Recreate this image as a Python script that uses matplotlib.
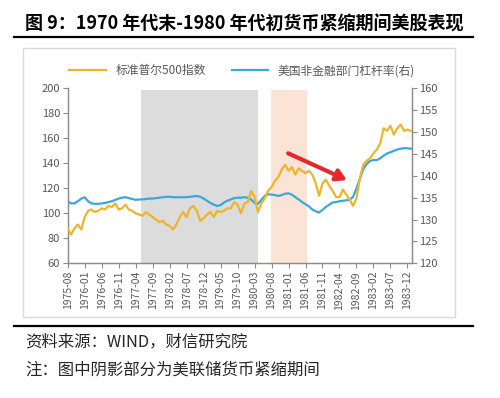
import matplotlib

matplotlib.use("Agg")
import matplotlib.pyplot as plt
import numpy as np
from matplotlib.lines import Line2D
from matplotlib.patches import Rectangle

plt.rcParams["font.family"] = ["Noto Sans CJK SC", "DejaVu Sans"]

# monthly series, first point 1975-08
sp500 = [
    88, 83, 88, 91, 87, 97, 102, 103, 101, 102,
    104, 103, 106, 105, 108, 103, 104, 107, 103, 102,
    100, 99, 98, 101, 99, 97, 95, 93, 94, 91,
    90, 87, 91, 97, 101, 97, 104, 106, 102, 94,
    96, 99, 101, 97, 102, 101, 102, 104, 104, 109,
    107, 100, 108, 109, 118, 113, 101, 108, 112, 118,
    121, 126, 129, 135, 139, 134, 137, 131, 136, 134,
    132, 134, 131, 124, 114, 124, 127, 122, 118, 113,
    113, 119, 115, 111, 106, 112, 128, 139, 142, 144,
    148, 151, 156, 168, 166, 170, 163, 168, 171, 166,
    167, 166,
]
leverage = [
    134.1, 133.7, 133.7, 134.2, 134.8, 135.1, 134.2, 133.7, 133.6, 133.6,
    133.7, 133.8, 134.0, 134.2, 134.5, 134.8, 135.0, 135.1, 134.9, 134.7,
    134.5, 134.6, 134.6, 134.7, 134.8, 134.8, 134.9, 135.0, 135.1, 135.2,
    135.2, 135.1, 135.1, 135.1, 135.1, 135.1, 135.2, 135.3, 135.4, 135.2,
    134.8, 134.3, 133.8, 133.4, 133.1, 133.3, 133.9, 134.3, 134.6, 134.9,
    135.0, 135.0, 135.1, 135.0, 134.6, 133.8, 133.6, 134.5, 135.4, 135.8,
    135.7, 135.6, 135.4, 135.6, 135.9, 136.0, 135.7, 135.1, 134.6, 134.0,
    133.5, 133.0, 132.3, 131.9, 131.6, 132.2, 132.9, 133.4, 133.9, 134.0,
    134.2, 134.3, 134.4, 134.5, 135.2, 137.1, 139.3, 141.5, 142.7, 143.4,
    143.6, 143.6, 144.0, 144.6, 145.1, 145.4, 145.7, 146.0, 146.2, 146.3,
    146.3, 146.2,
]
tick_labels = [
    "1975-08", "1976-01", "1976-06", "1976-11", "1977-04", "1977-09",
    "1978-02", "1978-07", "1978-12", "1979-05", "1979-10", "1980-03",
    "1980-08", "1981-01", "1981-06", "1981-11", "1982-04", "1982-09",
    "1983-02", "1983-07", "1983-12",
]
# tightening periods, in months since 1975-08
tight_1 = (21.5, 56.0)
tight_2 = (59.8, 70.5)

YELLOW = "#EDB52C"
BLUE = "#3BA7DA"
GREY_TXT = "#595959"
SPINE = "#8C8C8C"

fig = plt.figure(figsize=(5, 3.98), dpi=100)
ax = fig.add_axes([0.1354, 0.3384, 0.6876, 0.4397])
ax2 = ax.twinx()

x = np.arange(len(sp500))
# shading and the blue line go on the lower axes, yellow on top
ax2.axvspan(*tight_1, ymax=0.99, color="#DCDCDC", lw=0, zorder=0)
ax2.axvspan(*tight_2, ymax=0.99, color="#FBE4D5", lw=0, zorder=0)
(l2,) = ax2.plot(x, leverage, color=BLUE, lw=1.6, zorder=2)
(l1,) = ax.plot(x, sp500, color=YELLOW, lw=1.6, zorder=3)
ax.set_zorder(ax2.get_zorder() + 1)
ax.patch.set_visible(False)

ax.set_xlim(0, 101.2)
ax.set_ylim(60, 200)
ax2.set_ylim(120, 160)
ax.set_yticks(np.arange(60, 201, 20))
ax2.set_yticks(np.arange(120, 161, 5))
ax.set_xticks(np.arange(0, 101, 5))
ax.set_xticklabels(tick_labels, rotation=90)

for a in (ax, ax2):
    a.spines["top"].set_visible(False)
    for s in ("left", "right", "bottom"):
        a.spines[s].set_color(SPINE)
        a.spines[s].set_linewidth(0.9)
    a.tick_params(length=3.5, width=0.8, color=SPINE, labelcolor=GREY_TXT,
                  labelsize=8, pad=2)
ax.tick_params(axis="x", labelsize=7.5)

ax.annotate("", xy=(82.2, 126.6), xytext=(64.9, 148),
            arrowprops=dict(arrowstyle="-|>,head_length=0.6,head_width=0.35",
                            color="#E5282A", lw=3, shrinkA=0, shrinkB=0),
            zorder=5)

fig.legend([l1, l2], ["标准普尔500指数", "美国非金融部门杠杆率(右)"],
           loc="center", bbox_to_anchor=(0.484, 0.822), ncol=2,
           frameon=False, fontsize=8.5, handlelength=3.1, columnspacing=2.2,
           labelcolor=GREY_TXT)

# frame around the chart and the rules
fig.add_artist(Rectangle((23 / 500, 1 - 317 / 398), 432 / 500, 269 / 398,
                         transform=fig.transFigure, fill=False,
                         edgecolor="#D9D9D9", lw=1))
for yy in (37, 326):
    fig.add_artist(Line2D([14 / 500, 473 / 500], [1 - yy / 398] * 2,
                          color="black", lw=1.6, transform=fig.transFigure))

fig.text(25 / 500, 1 - 24 / 398, "图 9：1970 年代末-1980 年代初货币紧缩期间美股表现",
         fontsize=13, fontweight="bold", va="center", ha="left")
fig.text(25 / 500, 1 - 342 / 398, "资料来源：WIND，财信研究院",
         fontsize=11.8, style="italic", va="center", ha="left", color="#262626")
fig.text(25 / 500, 1 - 370 / 398, "注：图中阴影部分为美联储货币紧缩期间",
         fontsize=11.8, style="italic", va="center", ha="left", color="#262626")

fig.savefig("out.png", dpi=100)
